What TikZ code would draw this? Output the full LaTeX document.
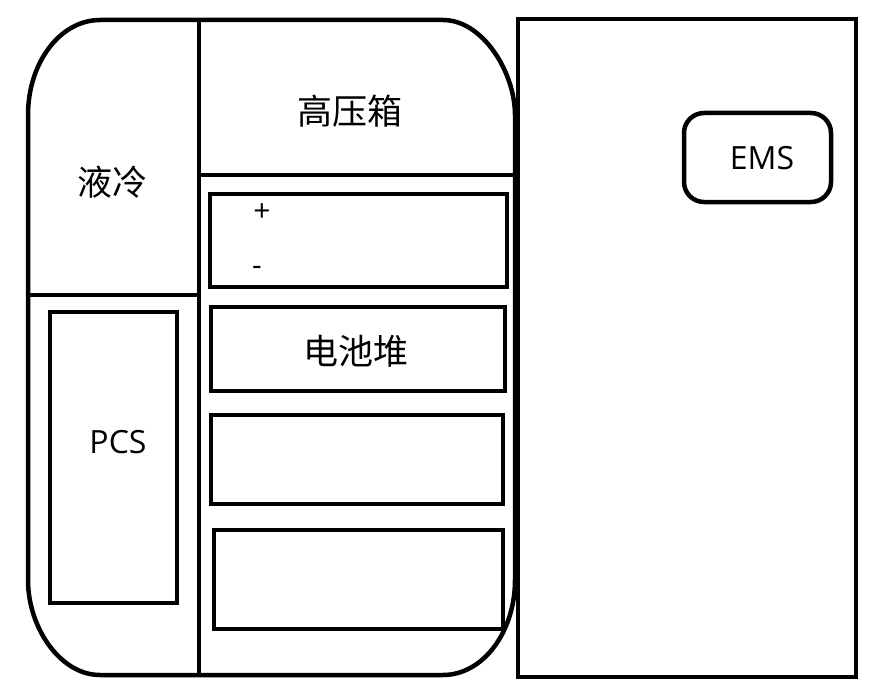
\documentclass[tikz,border=0pt]{standalone}
\usepackage{fontspec}
\setmainfont{Open Sans}
\newfontfamily\cjkfont{Noto Sans CJK SC}
\begin{document}
\begin{tikzpicture}[x=1pt,y=-1pt,
  wall/.style={draw=black,line width=4.5pt},
  box/.style={draw=black,line width=4.5pt,inner sep=0pt,outer sep=0pt},
  cjk/.style={font=\cjkfont\fontsize{35}{35}\selectfont,inner sep=0pt},
  lat/.style={font=\fontsize{32}{32}\selectfont,inner sep=0pt},
  sign/.style={font=\fontsize{30}{30}\selectfont,inner sep=0pt}]
\useasboundingbox[fill=white] (0,0) rectangle (888,695);
% outer rounded enclosure
\draw[wall] (100,20) -- (443,20) .. controls (482.8,20) and (515,72.4) .. (515,115)
  -- (515,580) .. controls (515,632.4) and (482.8,675) .. (443,675)
  -- (100,675) .. controls (60.2,675) and (28,627.6) .. (28,580)
  -- (28,115) .. controls (28,62.6) and (60.2,20) .. (100,20) -- cycle;
% dividers
\coordinate (vtop) at (199,20);
\coordinate (vbot) at (199,675);
\coordinate (hl) at (199,175);
\coordinate (hr) at (515,175);
\coordinate (ll) at (28,295);
\coordinate (lr) at (201,295);
\draw[wall] (vtop) -- (vbot);
\draw[wall] (hl) -- (hr);
\draw[wall] (ll) -- (lr);
% EMS cabinet
\node[box,minimum width=338pt,minimum height=658pt] (ems cab) at (687,348) {};
\node[box,rounded corners=20pt,minimum width=147pt,minimum height=89pt] (ems) at (757.5,157.5) {};
\node[lat] (emstxt) at (762,158) {EMS};
% PCS
\node[box,minimum width=127pt,minimum height=291pt] (pcs) at (113.5,457.5) {};
\node[lat] (pcstxt) at (118,442) {PCS};
% labels
\node[cjk] (hv) at (350,111) {高压箱};
\node[cjk] (lc) at (112,182) {液冷};
% battery boxes
\node[box,minimum width=297pt,minimum height=93pt] (b1) at (358.5,240.5) {};
\node[sign] (plus) at (262,213) {+};
\node[sign] (minus) at (257,271) {-};
\node[box,minimum width=294pt,minimum height=84pt] (b2) at (358,349) {};
\node[cjk] (stack) at (356,351) {电池堆};
\node[box,minimum width=292pt,minimum height=89pt] (b3) at (357,459.5) {};
\node[box,minimum width=289pt,minimum height=99pt] (b4) at (358.5,579.5) {};
\end{tikzpicture}
\end{document}
